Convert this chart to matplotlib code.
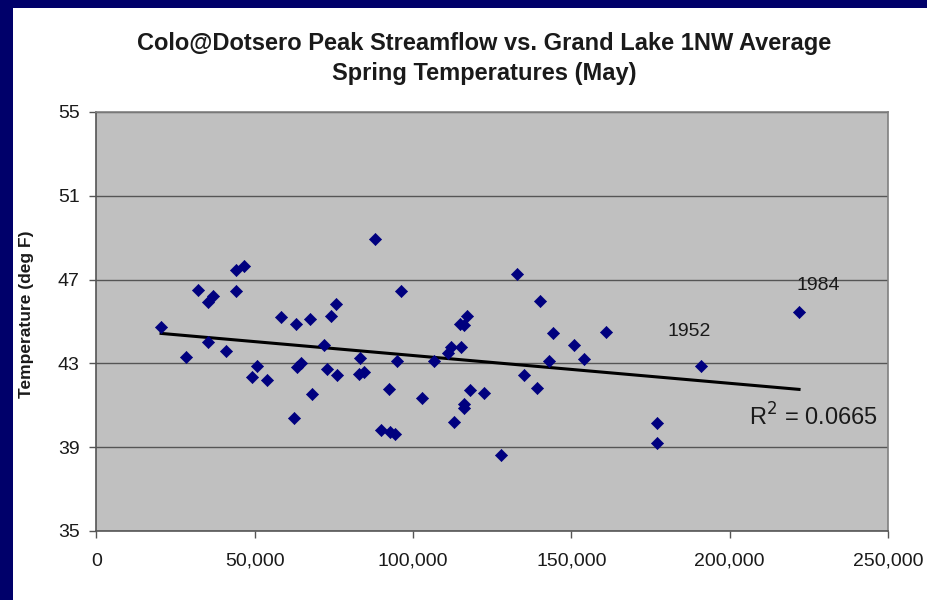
import numpy as np
import matplotlib
matplotlib.use("Agg")
import matplotlib.pyplot as plt
from matplotlib.ticker import FuncFormatter
from matplotlib.patches import Rectangle

plt.rcParams['font.family'] = ['Liberation Sans', 'DejaVu Sans']

# Peak streamflow (cfs) at Colorado River near Dotsero
flow = [20400, 28200, 32200, 35300, 36700, 35300, 44000, 46600, 44000, 40800,
        50600, 49100, 53800, 58200, 62900, 67300, 74000, 75600, 72000, 63200,
        64500, 68000, 62400, 72900, 75900, 88000, 96100, 83200, 82800, 84500,
        92500, 95000, 89900, 92700, 94300, 102700, 106700, 111100, 111900, 115100,
        114800, 116100, 117100, 118100, 122300, 116100, 116100, 113000, 127700, 132900,
        135000, 140100, 144100, 150800, 143000, 154000, 160900, 139200, 176900, 176900,
        191000, 221900]
# Grand Lake 1NW average May temperature (deg F)
temp = [44.75, 43.29, 46.52, 45.92, 46.22, 44.02, 47.46, 47.66, 46.46, 43.58,
        42.89, 42.37, 42.19, 45.20, 44.90, 45.13, 45.28, 45.84, 43.89, 42.84,
        43.03, 41.52, 40.41, 42.75, 42.45, 48.92, 46.46, 43.27, 42.49, 42.57,
        41.79, 43.11, 39.82, 39.74, 39.64, 41.33, 43.11, 43.48, 43.77, 43.77,
        44.88, 44.82, 45.25, 41.73, 41.59, 41.05, 40.89, 40.19, 38.63, 47.25,
        42.43, 45.98, 44.44, 43.88, 43.13, 43.22, 44.51, 41.81, 40.14, 39.19,
        42.89, 45.44]

labels_years = ["1952", "1984"]
labels_idx = [60, 61]
r2_text = "R$^2$ = 0.0665"

x_ticks = [0, 50000, 100000, 150000, 200000, 250000]
y_ticks = [35, 39, 43, 47, 51, 55]

W, H = 928, 600
fig = plt.figure(figsize=(W / 100, H / 100), dpi=100)
fig.patch.set_facecolor('white')

# navy slide frame (top and left)
fig.patches.append(Rectangle((0, 1 - 8 / H), 1, 8 / H, transform=fig.transFigure,
                             facecolor='#00006a', edgecolor='none', zorder=0))
fig.patches.append(Rectangle((0, 0), 13 / W, 1, transform=fig.transFigure,
                             facecolor='#00006a', edgecolor='none', zorder=0))

left, right, top, bottom = 96.5, 888, 112, 531
ax = fig.add_axes([left / W, (H - bottom) / H, (right - left) / W, (bottom - top) / H])
ax.set_facecolor('#c0c0c0')

x = np.array(flow, dtype=float)
y = np.array(temp, dtype=float)

ax.scatter(x, y, marker='D', s=38, color='#00007f', edgecolors='#00007f',
           linewidths=0.5, zorder=3)

# linear trendline
m, b = np.polyfit(x, y, 1)
xs = np.array([x.min(), x.max()])
ax.plot(xs, m * xs + b, color='black', lw=2.2, zorder=2)

ax.set_xlim(0, 250000)
ax.set_ylim(35, 55)
ax.set_xticks(x_ticks)
ax.set_yticks(y_ticks)
ax.xaxis.set_major_formatter(FuncFormatter(lambda v, p: f"{int(v):,}"))
ax.yaxis.grid(True, color='#555555', lw=1.0)
ax.set_axisbelow(True)

for s in ['top', 'right']:
    ax.spines[s].set_color('#808080')
    ax.spines[s].set_linewidth(1.2)
for s in ['left', 'bottom']:
    ax.spines[s].set_color('#555555')
    ax.spines[s].set_linewidth(1.2)

ax.tick_params(axis='both', direction='out', length=5, width=1, color='#555555',
               labelsize=14, labelcolor='#1a1a1a')
ax.tick_params(axis='x', pad=10.5)
ax.tick_params(axis='y', pad=7)

ax.set_ylabel("Temperature (deg F)", fontsize=12.5, fontweight='bold', color='#1a1a1a')
ax.yaxis.set_label_coords((34 - left) / (right - left), (bottom - 314) / (bottom - top))

offsets = {"1952": (-12, 34), "1984": (19, 27)}
for lbl, i in zip(labels_years, labels_idx):
    ax.annotate(lbl, (x[i], y[i]), xytext=offsets[lbl],
                textcoords='offset pixels', ha='center', va='center',
                fontsize=14, color='#1a1a1a')

ax.text((813 - left) / (right - left), (bottom - 417) / (bottom - top), r2_text,
        transform=ax.transAxes, ha='center', va='center', fontsize=17, color='#1a1a1a')

fig.text(484 / W, 1 - 50 / H, "Colo@Dotsero Peak Streamflow vs. Grand Lake 1NW Average",
         ha='center', va='baseline', fontsize=17, fontweight='bold', color='#1a1a1a')
fig.text(484 / W, 1 - 80 / H, "Spring Temperatures (May)",
         ha='center', va='baseline', fontsize=17, fontweight='bold', color='#1a1a1a')

fig.savefig("out.png", dpi=100)
